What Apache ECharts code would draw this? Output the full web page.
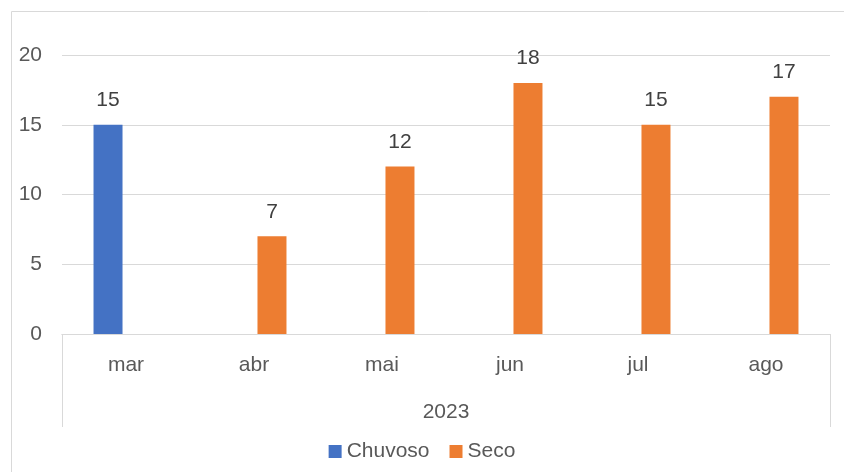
<!DOCTYPE html>
<html>
<head>
<meta charset="utf-8">
<script src="https://cdn.jsdelivr.net/npm/echarts@6/dist/echarts.min.js"></script>
<style>
html,body{margin:0;padding:0;background:#fff;}
#chart{width:844px;height:472px;}
</style>
</head>
<body>
<div id="chart"></div>
<script>
const months = ['mar', 'abr', 'mai', 'jun', 'jul', 'ago'];
const yearLabel = ['2023'];
const chuvoso = [15, null, null, null, null, null];
const seco = [null, 7, 12, 18, 15, 17];
const yTicks = { min: 0, max: 20, interval: 5 };

const FONT = '"Liberation Sans", Arial, sans-serif';
const TXT = '#595959';
const GRID = '#d9d9d9';
const FS = 21;

const chart = echarts.init(document.getElementById('chart'));
const labelCfg = { show: true, position: 'top', distance: 14, color: '#404040', fontSize: FS, fontFamily: FONT };
chart.setOption({
  animation: false,
  textStyle: { fontFamily: FONT },
  graphic: [{
    type: 'rect', shape: { x: 11.5, y: 11.5, width: 900, height: 600 },
    style: { fill: 'none', stroke: GRID, lineWidth: 1 }, silent: true, z: -1
  }],
  grid: { left: 62, right: 14, top: 55, bottom: 138 },
  legend: {
    top: 436, left: 'center',
    itemWidth: 13, itemHeight: 13, itemGap: 20, icon: 'rect',
    textStyle: { color: TXT, fontSize: FS, fontFamily: FONT },
    data: ['Chuvoso', 'Seco']
  },
  xAxis: [{
    type: 'category', data: months, position: 'bottom',
    axisLine: { show: true, lineStyle: { color: GRID, width: 1 } },
    axisTick: { show: false },
    axisLabel: { color: TXT, fontSize: FS, fontFamily: FONT, margin: 21 }
  }, {
    type: 'category', data: yearLabel, position: 'bottom',
    axisLine: { show: true, lineStyle: { color: GRID, width: 1 } },
    axisTick: { show: true, length: 93, lineStyle: { color: GRID, width: 1 } },
    axisLabel: { color: TXT, fontSize: FS, fontFamily: FONT, margin: 68 }
  }],
  yAxis: {
    type: 'value', min: yTicks.min, max: yTicks.max, interval: yTicks.interval,
    axisLine: { show: false }, axisTick: { show: false },
    splitLine: { lineStyle: { color: GRID, width: 1 } },
    axisLabel: { color: TXT, fontSize: FS, fontFamily: FONT, margin: 20 }
  },
  series: [{
    name: 'Chuvoso', type: 'bar', data: chuvoso, xAxisIndex: 0,
    itemStyle: { color: '#4472C4' }, barWidth: 29, barGap: '24%',
    label: labelCfg
  }, {
    name: 'Seco', type: 'bar', data: seco, xAxisIndex: 0,
    itemStyle: { color: '#ED7D31' }, barWidth: 29, barGap: '24%',
    label: labelCfg
  }]
});
</script>
</body>
</html>
